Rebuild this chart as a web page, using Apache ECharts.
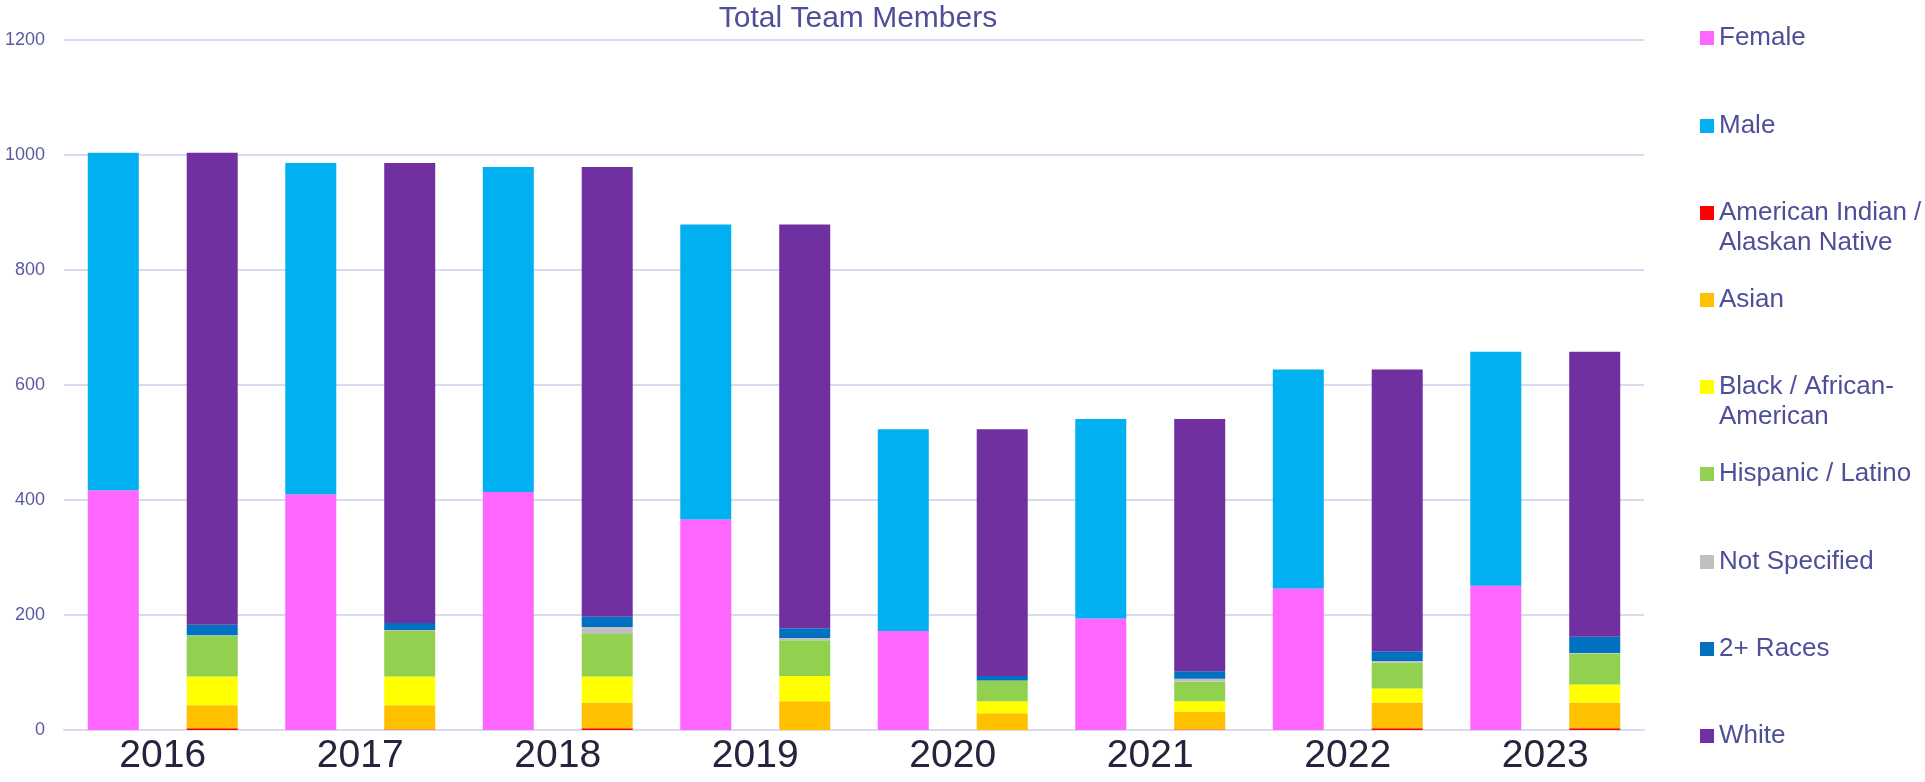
<!DOCTYPE html>
<html>
<head>
<meta charset="utf-8">
<script src="https://cdn.jsdelivr.net/npm/echarts@6/dist/echarts.min.js"></script>
<style>
  html, body { margin: 0; padding: 0; background: #fff; }
  #chart { width: 1925px; height: 782px; }
</style>
</head>
<body>
<div id="chart"></div>
<script>
  // data
  let years = ['2016', '2017', '2018', '2019', '2020', '2021', '2022', '2023']
  let female = [417, 410, 414, 366, 172, 194, 246, 251]
  let male = [587, 576, 565, 513, 351, 347, 381, 407]
  let amIndian = [3, 1, 3, 0, 0, 1, 3, 3]
  let asian = [40, 42, 45, 50, 29, 31, 45, 45]
  let black = [50, 50, 45, 44, 21, 18, 24, 31]
  let hispanic = [71, 79, 74, 62, 36, 34, 45, 54]
  let notSpecified = [1, 2, 12, 4, 0, 5, 3, 1]
  let twoPlus = [18, 12, 18, 17, 8, 13, 17, 28]
  let white = [821, 800, 782, 702, 429, 439, 490, 496]
  let yTicks = [0, 200, 400, 600, 800, 1000, 1200]

  let textColor = '#4f4f99'

  let seriesList = [
    { name: 'Female', stack: 'gender', color: '#ff66ff', data: female },
    { name: 'Male', stack: 'gender', color: '#00b0f0', data: male },
    { name: 'American Indian / Alaskan Native', stack: 'race', color: '#ff0000', data: amIndian },
    { name: 'Asian', stack: 'race', color: '#ffc000', data: asian },
    { name: 'Black / African-American', stack: 'race', color: '#ffff00', data: black },
    { name: 'Hispanic / Latino', stack: 'race', color: '#92d050', data: hispanic },
    { name: 'Not Specified', stack: 'race', color: '#bfbfbf', data: notSpecified },
    { name: '2+ Races', stack: 'race', color: '#0070c0', data: twoPlus },
    { name: 'White', stack: 'race', color: '#7030a0', data: white },
  ]
  // legend text split over lines like in the original
  let legendLines = {
    'American Indian / Alaskan Native': ['American Indian /', 'Alaskan Native'],
    'Black / African-American': ['Black / African-', 'American']
  }
  // icon centre (y) of each legend entry
  let legendY = [38, 126, 213, 300, 387, 474, 562, 649, 736]

  let legends = seriesList.map(function (s, i) {
    return {
      data: [s.name],
      orient: 'vertical',
      left: 1700,
      top: legendY[i] - 15,
      padding: 0,
      icon: 'rect',
      itemWidth: 14,
      itemHeight: 14,
      selectedMode: false,
      formatter: function (name) {
        return legendLines[name] ? legendLines[name][0] : name
      },
      textStyle: {
        color: textColor,
        fontSize: 26,
        lineHeight: 30,
        fontFamily: 'Liberation Sans'
      }
    }
  })

  // second lines of the wrapped legend entries
  let secondLines = []
  seriesList.forEach(function (s, i) {
    if (legendLines[s.name]) {
      secondLines.push({
        type: 'text',
        left: 1719,
        top: legendY[i] + 15,
        style: {
          text: legendLines[s.name][1],
          fill: textColor,
          font: '26px "Liberation Sans"',
          lineHeight: 30
        }
      })
    }
  })

  let option = {
    animation: false,
    title: {
      text: 'Total Team Members',
      left: 858,
      top: 4,
      padding: 0,
      textAlign: 'center',
      textStyle: {
        color: textColor,
        fontSize: 30,
        lineHeight: 30,
        fontWeight: 'normal',
        fontFamily: 'Liberation Sans'
      }
    },
    legend: legends,
    graphic: secondLines,
    grid: {
      left: 64,
      right: 281,
      top: 40,
      bottom: 52
    },
    xAxis: {
      type: 'category',
      data: years,
      axisTick: { show: false },
      axisLine: { lineStyle: { color: '#d9d9ef', width: 2 } },
      axisLabel: {
        color: '#24243c',
        fontSize: 39,
        margin: 7,
        fontFamily: 'Liberation Sans'
      }
    },
    yAxis: {
      type: 'value',
      min: yTicks[0],
      max: yTicks[yTicks.length - 1],
      interval: 200,
      axisLine: { show: false },
      axisTick: { show: false },
      splitLine: { lineStyle: { color: '#d9d9ef', width: 2 } },
      axisLabel: {
        color: '#5a5aa0',
        fontSize: 18,
        margin: 19,
        fontFamily: 'Liberation Sans',
        formatter: function (v) { return String(v) }
      }
    },
    series: seriesList.map(function (s) {
      return {
        name: s.name,
        type: 'bar',
        stack: s.stack,
        barWidth: 51,
        barGap: '94%',
        itemStyle: { color: s.color },
        data: s.data
      }
    })
  }

  let myChart = echarts.init(document.getElementById('chart'))
  myChart.setOption(option)
</script>
</body>
</html>
